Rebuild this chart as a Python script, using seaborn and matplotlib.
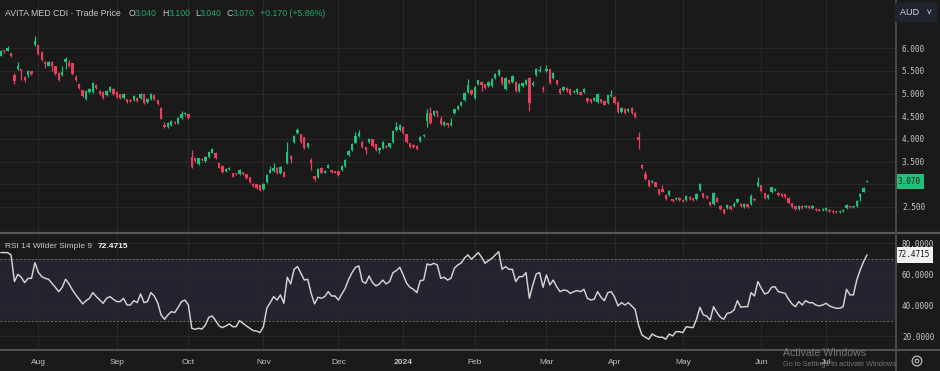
import numpy as np
import pandas as pd
import matplotlib
matplotlib.use("Agg")
import matplotlib.pyplot as plt
import matplotlib.transforms as mtransforms
from matplotlib.lines import Line2D
from matplotlib.patches import Circle
import seaborn as sns

# ---------------- data ----------------
opens = [5.84, 5.95, 5.95, 5.89, 5.41, 5.54, 5.54, 5.37, 5.41, 5.49,
         6.07, 6.07, 5.92, 5.70, 5.62, 5.70, 5.60, 5.45, 5.41, 5.69,
         5.67, 5.67, 5.36, 5.21, 5.08, 4.89, 5.04, 5.04, 5.20, 5.06,
         5.04, 4.96, 5.05, 5.11, 5.03, 4.99, 4.90, 4.88, 4.87, 4.86,
         4.91, 4.90, 4.99, 4.81, 4.89, 4.96, 4.86, 4.69, 4.31, 4.26,
         4.31, 4.38, 4.35, 4.46, 4.55, 4.55, 3.60, 3.59, 3.44, 3.56,
         3.52, 3.60, 3.70, 3.70, 3.46, 3.41, 3.30, 3.33, 3.25, 3.25,
         3.22, 3.27, 3.22, 3.15, 3.01, 3.00, 2.98, 2.89, 3.04, 3.26,
         3.30, 3.37, 3.24, 3.28, 3.46, 3.63, 3.93, 4.13, 4.11, 4.04,
         3.83, 3.54, 3.18, 3.15, 3.37, 3.26, 3.37, 3.31, 3.29, 3.29,
         3.32, 3.40, 3.64, 3.76, 3.92, 4.06, 3.94, 3.82, 3.93, 3.99,
         3.88, 3.76, 3.79, 3.85, 3.83, 3.94, 4.20, 4.20, 4.27, 4.11,
         3.90, 3.87, 3.85, 3.96, 4.06, 4.40, 4.57, 4.53, 4.62, 4.43,
         4.31, 4.35, 4.31, 4.57, 4.65, 4.75, 4.85, 5.04, 5.08, 4.90,
         5.21, 5.26, 5.21, 5.17, 5.17, 5.34, 5.41, 5.36, 5.10, 5.30,
         5.26, 5.26, 5.06, 5.17, 5.21, 5.34, 5.20, 5.41, 5.50, 5.13,
         5.50, 5.54, 5.34, 5.30, 5.11, 5.08, 5.13, 5.10, 5.04, 5.03,
         5.04, 5.03, 4.90, 4.88, 4.86, 4.82, 4.88, 4.84, 4.80, 4.94,
         4.93, 4.82, 4.60, 4.67, 4.62, 4.69, 4.58, 4.04, 3.42, 3.22,
         3.09, 3.04, 3.04, 2.89, 2.90, 2.77, 2.76, 2.67, 2.67, 2.70,
         2.66, 2.66, 2.73, 2.69, 2.68, 2.87, 2.80, 2.75, 2.62, 2.56,
         2.70, 2.53, 2.45, 2.47, 2.52, 2.52, 2.60, 2.57, 2.50, 2.56,
         2.56, 2.68, 2.96, 2.98, 2.80, 2.70, 2.82, 2.88, 2.81, 2.79,
         2.78, 2.70, 2.58, 2.52, 2.46, 2.53, 2.50, 2.53, 2.48, 2.46,
         2.45, 2.44, 2.44, 2.44, 2.42, 2.41, 2.39, 2.41, 2.47, 2.52,
         2.49, 2.53, 2.71, 2.84, 3.04]

closes = [5.94, 5.93, 6.00, 5.82, 5.27, 5.60, 5.49, 5.29, 5.51, 5.44,
          6.16, 5.87, 5.74, 5.66, 5.70, 5.62, 5.43, 5.30, 5.48, 5.76,
          5.61, 5.43, 5.29, 5.12, 4.95, 5.06, 5.11, 5.24, 5.12, 4.99,
          4.90, 5.05, 5.15, 4.99, 4.92, 4.91, 5.00, 4.82, 4.83, 4.95,
          4.84, 5.00, 4.80, 4.88, 4.99, 4.89, 4.77, 4.45, 4.26, 4.35,
          4.40, 4.35, 4.46, 4.55, 4.58, 4.46, 3.39, 3.51, 3.57, 3.53,
          3.60, 3.72, 3.77, 3.58, 3.37, 3.28, 3.34, 3.36, 3.17, 3.22,
          3.31, 3.22, 3.13, 3.05, 2.96, 2.92, 2.87, 3.00, 3.20, 3.31,
          3.37, 3.24, 3.39, 3.17, 3.72, 3.55, 4.06, 4.20, 3.94, 3.79,
          3.90, 3.48, 3.12, 3.33, 3.26, 3.29, 3.43, 3.28, 3.26, 3.20,
          3.40, 3.54, 3.74, 3.89, 4.06, 4.14, 3.82, 3.76, 4.00, 3.85,
          3.76, 3.80, 3.93, 3.83, 3.90, 4.18, 4.27, 4.31, 4.13, 3.94,
          3.83, 3.82, 3.77, 4.04, 4.08, 4.57, 4.35, 4.62, 4.57, 4.32,
          4.37, 4.31, 4.35, 4.65, 4.73, 4.82, 5.02, 5.19, 4.99, 5.15,
          5.29, 5.19, 5.12, 5.26, 5.32, 5.43, 5.52, 5.23, 5.34, 5.23,
          5.39, 5.06, 5.21, 5.24, 5.30, 4.79, 5.24, 5.54, 5.52, 5.10,
          5.55, 5.23, 5.45, 5.21, 5.01, 5.15, 5.06, 4.99, 5.06, 5.10,
          4.98, 5.11, 4.84, 4.81, 4.90, 4.99, 4.82, 4.76, 4.96, 4.96,
          4.80, 4.60, 4.68, 4.58, 4.67, 4.58, 4.49, 3.98, 3.35, 3.12,
          2.96, 3.08, 2.95, 2.79, 2.84, 2.67, 2.85, 2.63, 2.70, 2.66,
          2.63, 2.74, 2.67, 2.66, 2.79, 3.00, 2.71, 2.69, 2.54, 2.80,
          2.62, 2.46, 2.37, 2.55, 2.46, 2.56, 2.68, 2.52, 2.57, 2.50,
          2.75, 2.65, 3.05, 2.85, 2.70, 2.77, 2.93, 2.90, 2.76, 2.75,
          2.72, 2.58, 2.50, 2.46, 2.53, 2.47, 2.53, 2.48, 2.53, 2.43,
          2.42, 2.46, 2.47, 2.41, 2.39, 2.38, 2.42, 2.44, 2.55, 2.49,
          2.51, 2.64, 2.78, 2.91, 3.07]

highs = [5.96, 5.97, 6.05, 5.90, 5.46, 5.70, 5.55, 5.38, 5.53, 5.50,
         6.27, 6.08, 5.94, 5.73, 5.72, 5.72, 5.62, 5.47, 5.60, 5.80,
         5.75, 5.68, 5.42, 5.22, 5.09, 5.07, 5.13, 5.26, 5.21, 5.07,
         5.05, 5.07, 5.17, 5.12, 5.04, 5.00, 5.02, 4.89, 4.89, 4.98,
         4.92, 5.02, 5.00, 4.90, 5.01, 4.97, 4.87, 4.70, 4.38, 4.37,
         4.42, 4.39, 4.48, 4.62, 4.60, 4.56, 3.76, 3.60, 3.58, 3.57,
         3.62, 3.74, 3.80, 3.71, 3.47, 3.42, 3.36, 3.38, 3.26, 3.26,
         3.33, 3.28, 3.23, 3.16, 3.02, 3.01, 2.99, 3.02, 3.22, 3.40,
         3.48, 3.38, 3.41, 3.29, 3.93, 3.64, 4.08, 4.24, 4.12, 4.05,
         3.92, 3.58, 3.19, 3.35, 3.38, 3.31, 3.45, 3.32, 3.30, 3.30,
         3.42, 3.56, 3.76, 3.91, 4.16, 4.20, 3.95, 3.83, 4.02, 4.00,
         3.89, 3.82, 3.95, 3.86, 3.92, 4.20, 4.38, 4.33, 4.28, 4.12,
         3.91, 3.88, 3.86, 4.06, 4.10, 4.65, 4.70, 4.64, 4.63, 4.50,
         4.40, 4.36, 4.46, 4.67, 4.75, 4.84, 5.04, 5.33, 5.09, 5.17,
         5.31, 5.27, 5.22, 5.28, 5.34, 5.45, 5.54, 5.37, 5.36, 5.31,
         5.41, 5.27, 5.23, 5.26, 5.32, 5.36, 5.28, 5.56, 5.60, 5.17,
         5.64, 5.55, 5.47, 5.31, 5.12, 5.17, 5.14, 5.11, 5.08, 5.13,
         5.05, 5.13, 4.91, 4.89, 4.92, 5.01, 4.89, 4.85, 4.98, 5.09,
         4.94, 4.83, 4.70, 4.68, 4.69, 4.70, 4.59, 4.16, 3.44, 3.30,
         3.10, 3.10, 3.05, 2.90, 2.98, 2.78, 2.87, 2.68, 2.72, 2.71,
         2.67, 2.76, 2.74, 2.70, 2.81, 3.02, 2.81, 2.76, 2.63, 2.84,
         2.71, 2.54, 2.46, 2.57, 2.53, 2.60, 2.70, 2.58, 2.59, 2.57,
         2.78, 2.69, 3.17, 2.99, 2.81, 2.79, 2.95, 2.92, 2.82, 2.80,
         2.79, 2.71, 2.59, 2.53, 2.55, 2.54, 2.55, 2.54, 2.55, 2.47,
         2.46, 2.48, 2.49, 2.45, 2.43, 2.42, 2.44, 2.46, 2.57, 2.53,
         2.53, 2.66, 2.80, 2.93, 3.10]

lows = [5.82, 5.90, 5.94, 5.80, 5.22, 5.52, 5.30, 5.25, 5.37, 5.42,
        6.05, 5.85, 5.72, 5.56, 5.60, 5.50, 5.40, 5.28, 5.39, 5.55,
        5.59, 5.41, 5.27, 5.10, 4.93, 4.87, 5.02, 5.02, 5.10, 4.97,
        4.88, 4.94, 5.03, 4.97, 4.90, 4.89, 4.88, 4.80, 4.81, 4.84,
        4.82, 4.88, 4.78, 4.79, 4.87, 4.87, 4.75, 4.43, 4.24, 4.24,
        4.29, 4.33, 4.33, 4.44, 4.53, 4.44, 3.36, 3.49, 3.42, 3.51,
        3.50, 3.58, 3.68, 3.56, 3.35, 3.26, 3.28, 3.31, 3.15, 3.20,
        3.20, 3.20, 3.11, 3.03, 2.94, 2.90, 2.85, 2.87, 3.02, 3.24,
        3.28, 3.22, 3.22, 3.15, 3.44, 3.48, 3.91, 4.11, 3.92, 3.77,
        3.81, 3.32, 3.08, 3.13, 3.24, 3.24, 3.35, 3.26, 3.24, 3.18,
        3.30, 3.38, 3.62, 3.74, 3.90, 4.04, 3.80, 3.66, 3.91, 3.83,
        3.74, 3.68, 3.77, 3.81, 3.81, 3.92, 4.18, 4.18, 4.11, 3.92,
        3.81, 3.80, 3.75, 3.94, 4.04, 4.27, 4.33, 4.51, 4.49, 4.30,
        4.29, 4.26, 4.29, 4.55, 4.63, 4.73, 4.83, 5.02, 4.97, 4.88,
        5.19, 5.05, 5.10, 5.15, 5.15, 5.32, 5.39, 5.18, 5.08, 5.21,
        5.24, 5.04, 5.04, 5.15, 5.19, 4.62, 5.17, 5.39, 5.48, 5.04,
        5.48, 5.21, 5.32, 5.19, 4.99, 5.06, 5.04, 4.97, 5.02, 5.00,
        4.96, 5.01, 4.79, 4.79, 4.84, 4.80, 4.80, 4.74, 4.78, 4.92,
        4.78, 4.58, 4.58, 4.56, 4.60, 4.56, 4.47, 3.78, 3.33, 3.10,
        2.94, 3.02, 2.93, 2.77, 2.82, 2.65, 2.74, 2.61, 2.65, 2.64,
        2.61, 2.64, 2.65, 2.64, 2.66, 2.85, 2.69, 2.67, 2.52, 2.54,
        2.60, 2.44, 2.35, 2.45, 2.44, 2.50, 2.58, 2.50, 2.48, 2.48,
        2.54, 2.63, 2.94, 2.83, 2.68, 2.68, 2.80, 2.86, 2.74, 2.73,
        2.70, 2.56, 2.48, 2.44, 2.44, 2.45, 2.48, 2.46, 2.46, 2.41,
        2.40, 2.42, 2.42, 2.39, 2.37, 2.36, 2.37, 2.39, 2.45, 2.47,
        2.47, 2.51, 2.64, 2.82, 3.04]

rsi = [74.0, 74.0, 74.0, 72.5, 55.3, 60.0, 58.1, 54.6, 57.4, 57.4,
       67.5, 61.3, 58.5, 57.4, 56.8, 54.2, 51.6, 48.8, 51.6, 56.8,
       53.8, 49.9, 46.7, 43.9, 40.9, 43.0, 44.5, 48.2, 45.6, 43.4,
       41.3, 44.5, 45.6, 43.9, 42.4, 42.4, 44.5, 40.2, 40.2, 43.0,
       41.7, 47.3, 41.7, 42.4, 48.2, 46.0, 41.7, 33.8, 31.0, 33.8,
       35.9, 35.3, 38.7, 42.4, 43.4, 40.2, 25.2, 24.5, 25.2, 24.7,
       27.3, 32.3, 33.1, 30.1, 26.7, 25.6, 26.7, 28.0, 26.2, 26.2,
       30.1, 28.4, 26.7, 25.2, 23.7, 23.4, 22.4, 26.2, 38.1, 41.7,
       45.6, 43.4, 46.7, 41.3, 58.1, 53.8, 63.2, 65.0, 60.6, 56.3,
       56.8, 47.7, 40.9, 45.2, 44.5, 45.6, 48.8, 46.0, 46.0, 43.4,
       47.3, 51.0, 56.8, 61.1, 64.5, 65.4, 55.3, 54.2, 58.9, 54.6,
       52.5, 53.8, 56.3, 53.8, 55.3, 61.1, 62.4, 64.5, 59.6, 54.2,
       51.6, 50.3, 48.2, 55.9, 56.3, 66.7, 66.0, 67.1, 66.0, 57.4,
       58.1, 56.3, 57.4, 63.9, 66.0, 67.3, 70.6, 72.5, 69.7, 71.8,
       74.0, 71.0, 67.1, 68.8, 70.3, 72.5, 74.6, 63.2, 65.0, 63.2,
       63.2, 55.3, 58.5, 58.5, 61.1, 44.5, 53.1, 60.2, 61.1, 51.6,
       59.6, 53.1, 56.3, 52.0, 48.8, 49.9, 49.5, 47.7, 48.8, 49.5,
       48.8, 50.3, 44.5, 43.4, 43.9, 48.8, 45.2, 43.0, 48.2, 48.8,
       45.2, 39.6, 41.7, 40.2, 41.7, 39.6, 37.4, 27.3, 20.9, 19.4,
       18.1, 21.5, 20.2, 19.4, 19.4, 18.1, 21.5, 20.2, 23.0, 23.0,
       22.4, 26.2, 25.8, 25.6, 31.0, 38.7, 33.8, 33.1, 30.5, 39.1,
       35.3, 32.3, 31.0, 34.8, 35.3, 37.0, 43.0, 38.7, 39.1, 39.1,
       48.2, 46.0, 55.3, 51.0, 47.3, 48.2, 51.6, 52.0, 48.8, 48.2,
       47.7, 43.9, 40.9, 39.1, 42.4, 40.2, 43.0, 41.7, 41.7, 40.2,
       39.6, 40.2, 41.3, 39.6, 38.7, 38.1, 38.1, 39.1, 50.3, 46.7,
       46.7, 56.3, 62.8, 68.2, 72.4715]

month_labels = ["Aug", "Sep", "Oct", "Nov", "Dec", "2024",
                "Feb", "Mar", "Apr", "May", "Jun", "Jul"]
lead_days = 11
month_days = [23, 21, 22, 22, 19, 21, 21, 20, 20, 23, 19]
price_ticks = [2.5, 3.0, 3.5, 4.0, 4.5, 5.0, 5.5, 6.0]
rsi_ticks = [20, 40, 60, 80]
rsi_band = [30, 70]
title_name = "AVITA MED CDI · Trade Price"
last_ohlc = [("O", 3.040), ("H", 3.100), ("L", 3.040), ("C", 3.070)]
last_change, last_pct = 0.170, 5.86
currency = "AUD"

# ---------------- style ----------------
BG = "#1a1a1a"
GRID = "#292929"
UP = "#22c17a"
DOWN = "#ea3f5c"
TXT = "#c9c9c9"
sns.set_theme(style="dark", rc={"axes.facecolor": BG, "figure.facecolor": BG})
plt.rcParams["font.family"] = ["Liberation Sans", "DejaVu Sans"]

W, H = 940, 371
fig = plt.figure(figsize=(W / 100, H / 100), dpi=100, facecolor=BG)
ax = fig.add_axes([0, 1 - 232 / H, 896 / W, 232 / H])
ax2 = fig.add_axes([0, 1 - 350 / H, 896 / W, 116 / H])

df = pd.DataFrame({"i": np.arange(len(closes)), "open": opens, "high": highs,
                   "low": lows, "close": closes, "rsi": rsi})
df["up"] = df["close"] >= df["open"]
cols = np.where(df["up"], UP, DOWN)
body_lo = np.minimum(df["open"], df["close"])
body_h = np.maximum(np.abs(df["close"] - df["open"]), 0.025)

for a in (ax, ax2):
    a.set_facecolor(BG)
    a.set_xlim(-0.235, 262.5)
    for s in a.spines.values():
        s.set_visible(False)

ax.set_ylim(1.9475, 7.0655)
ax2.set_ylim(11.16, 86.0)

month_pos = np.cumsum([lead_days] + month_days)

# price panel
ax.vlines(df["i"], df["low"], df["high"], colors=cols, linewidth=0.9, zorder=3)
ax.bar(df["i"], body_h, bottom=body_lo, width=0.68, color=cols, linewidth=0, zorder=4)
ax.set_yticks(price_ticks)
# the live-price marker covers the nearest scale label, as on the original
ax.set_yticklabels(["" if abs(v - closes[-1]) < 0.2 else f"{v:.3f}" for v in price_ticks])
ax.yaxis.tick_right()
ax.set_xticks(month_pos)
ax.set_xticklabels([])
ax.grid(True, color=GRID, linewidth=0.8)
ax.tick_params(axis="both", length=0)
ax.tick_params(axis="y", pad=4.3, labelsize=5.5, labelcolor=TXT)
for lb in ax.get_yticklabels():
    lb.set_fontfamily("DejaVu Sans Mono")

# RSI panel
ax2.axhspan(rsi_band[0], rsi_band[1], color="#262230", zorder=0.5, linewidth=0)
for v in rsi_band:
    ax2.axhline(v, color="#6e6e6e", linewidth=0.7, linestyle=(0, (2, 2)), zorder=1)
sns.lineplot(data=df, x="i", y="rsi", ax=ax2, color="#d4d4d4", linewidth=1.05,
             legend=False, zorder=3)
ax2.set_xlabel("")
ax2.set_ylabel("")
ax2.set_yticks(rsi_ticks)
ax2.set_yticklabels([f"{v:.4f}" for v in rsi_ticks])
ax2.yaxis.tick_right()
ax2.set_xticks(month_pos)
ax2.set_xticklabels(month_labels)
ax2.grid(True, color=GRID, linewidth=0.8)
ax2.tick_params(axis="both", length=0)
ax2.tick_params(axis="y", pad=4.3, labelsize=5.5, labelcolor=TXT)
ax2.tick_params(axis="x", pad=6.3, labelsize=6.0, labelcolor="#c4c4c4")
for lb in ax2.get_yticklabels():
    lb.set_fontfamily("DejaVu Sans Mono")
for lb in ax2.get_xticklabels():
    if lb.get_text().isdigit():
        lb.set_fontweight("bold")

# current value boxes on the scales
tr1 = mtransforms.blended_transform_factory(ax.transAxes, ax.transData)
ax.text(1.0 + 2.0 / 896, closes[-1], f"{closes[-1]:.3f}", transform=tr1, va="center",
        ha="left", fontsize=5.5, family="DejaVu Sans Mono", color="#0f1a14",
        bbox=dict(boxstyle="square,pad=0.4", fc=UP, ec="none"), clip_on=False, zorder=10)
tr2 = mtransforms.blended_transform_factory(ax2.transAxes, ax2.transData)
ax2.text(1.0 + 2.0 / 896, rsi[-1], f"{rsi[-1]:.4f}", transform=tr2, va="center",
         ha="left", fontsize=5.5, family="DejaVu Sans Mono", color="#111111",
         bbox=dict(boxstyle="square,pad=0.4", fc="#f2f2f2", ec="none"), clip_on=False, zorder=10)

# frame lines
LINE = "#585858"
fig.add_artist(Line2D([0, 1], [1 - 233 / H] * 2, color=LINE, lw=1.6, transform=fig.transFigure))
fig.add_artist(Line2D([0, 1], [1 - 350 / H] * 2, color=LINE, lw=1.3, transform=fig.transFigure))
fig.add_artist(Line2D([896 / W] * 2, [0, 1], color="#4a4a4a", lw=1.4, transform=fig.transFigure))

# title row
GREEN_T = "#23a86c"
t = fig.text(5 / W, 1 - 13 / H, title_name, fontsize=6.3, color=TXT, va="center", ha="left")
prev = t
first = True
for k, v in last_ohlc:
    lab = ax.annotate(k, xy=(1, 0.5), xycoords=prev, xytext=(5.5 if first else 3.5, 0),
                      textcoords="offset points", va="center", ha="left",
                      fontsize=6.3, color=TXT, annotation_clip=False)
    prev = ax.annotate(f"{v:.3f}", xy=(1, 0.5), xycoords=lab, xytext=(0, 0),
                       textcoords="offset points", va="center", ha="left",
                       fontsize=6.3, color=GREEN_T, annotation_clip=False)
    first = False
ax.annotate(f"+{last_change:.3f} (+{last_pct:.2f}%)", xy=(1, 0.5), xycoords=prev,
            xytext=(3.5, 0), textcoords="offset points", va="center", ha="left",
            fontsize=6.3, color=GREEN_T, annotation_clip=False)

# RSI legend
r = fig.text(5 / W, 1 - 246 / H, "RSI 14 Wilder Simple 9", fontsize=6.0, color=TXT,
             va="center", ha="left")
ax2.annotate(f"{rsi[-1]:.4f}", xy=(1, 0.5), xycoords=r, xytext=(4, 0),
             textcoords="offset points", va="center", ha="left", fontsize=6.0,
             color="#f0f0f0", fontweight="bold", annotation_clip=False)

# currency selector
fig.text(900 / W, 1 - 12.5 / H, currency + "   \u02c5", fontsize=6.5, color="#d8dbe3",
         va="center", ha="left",
         bbox=dict(boxstyle="round,pad=0.6,rounding_size=0.3", fc="#1f2430", ec="none"))

# settings icon
fig.add_artist(Circle((917 / 100, (H - 361) / 100), 0.048, transform=fig.dpi_scale_trans,
                      fill=False, ec="#bdbdbd", lw=0.9))
fig.add_artist(Circle((917 / 100, (H - 361) / 100), 0.018, transform=fig.dpi_scale_trans,
                      fill=False, ec="#bdbdbd", lw=0.8))

# OS watermark seen in the screenshot
fig.text(783 / W, 1 - 353 / H, "Activate Windows", fontsize=7.6, color="#8c8c8c",
         alpha=0.8, va="center", ha="left")
fig.text(783 / W, 1 - 364 / H, "Go to Settings to activate Windows.", fontsize=5.3,
         color="#8c8c8c", alpha=0.8, va="center", ha="left")

fig.savefig("out.png", dpi=100, facecolor=BG)
